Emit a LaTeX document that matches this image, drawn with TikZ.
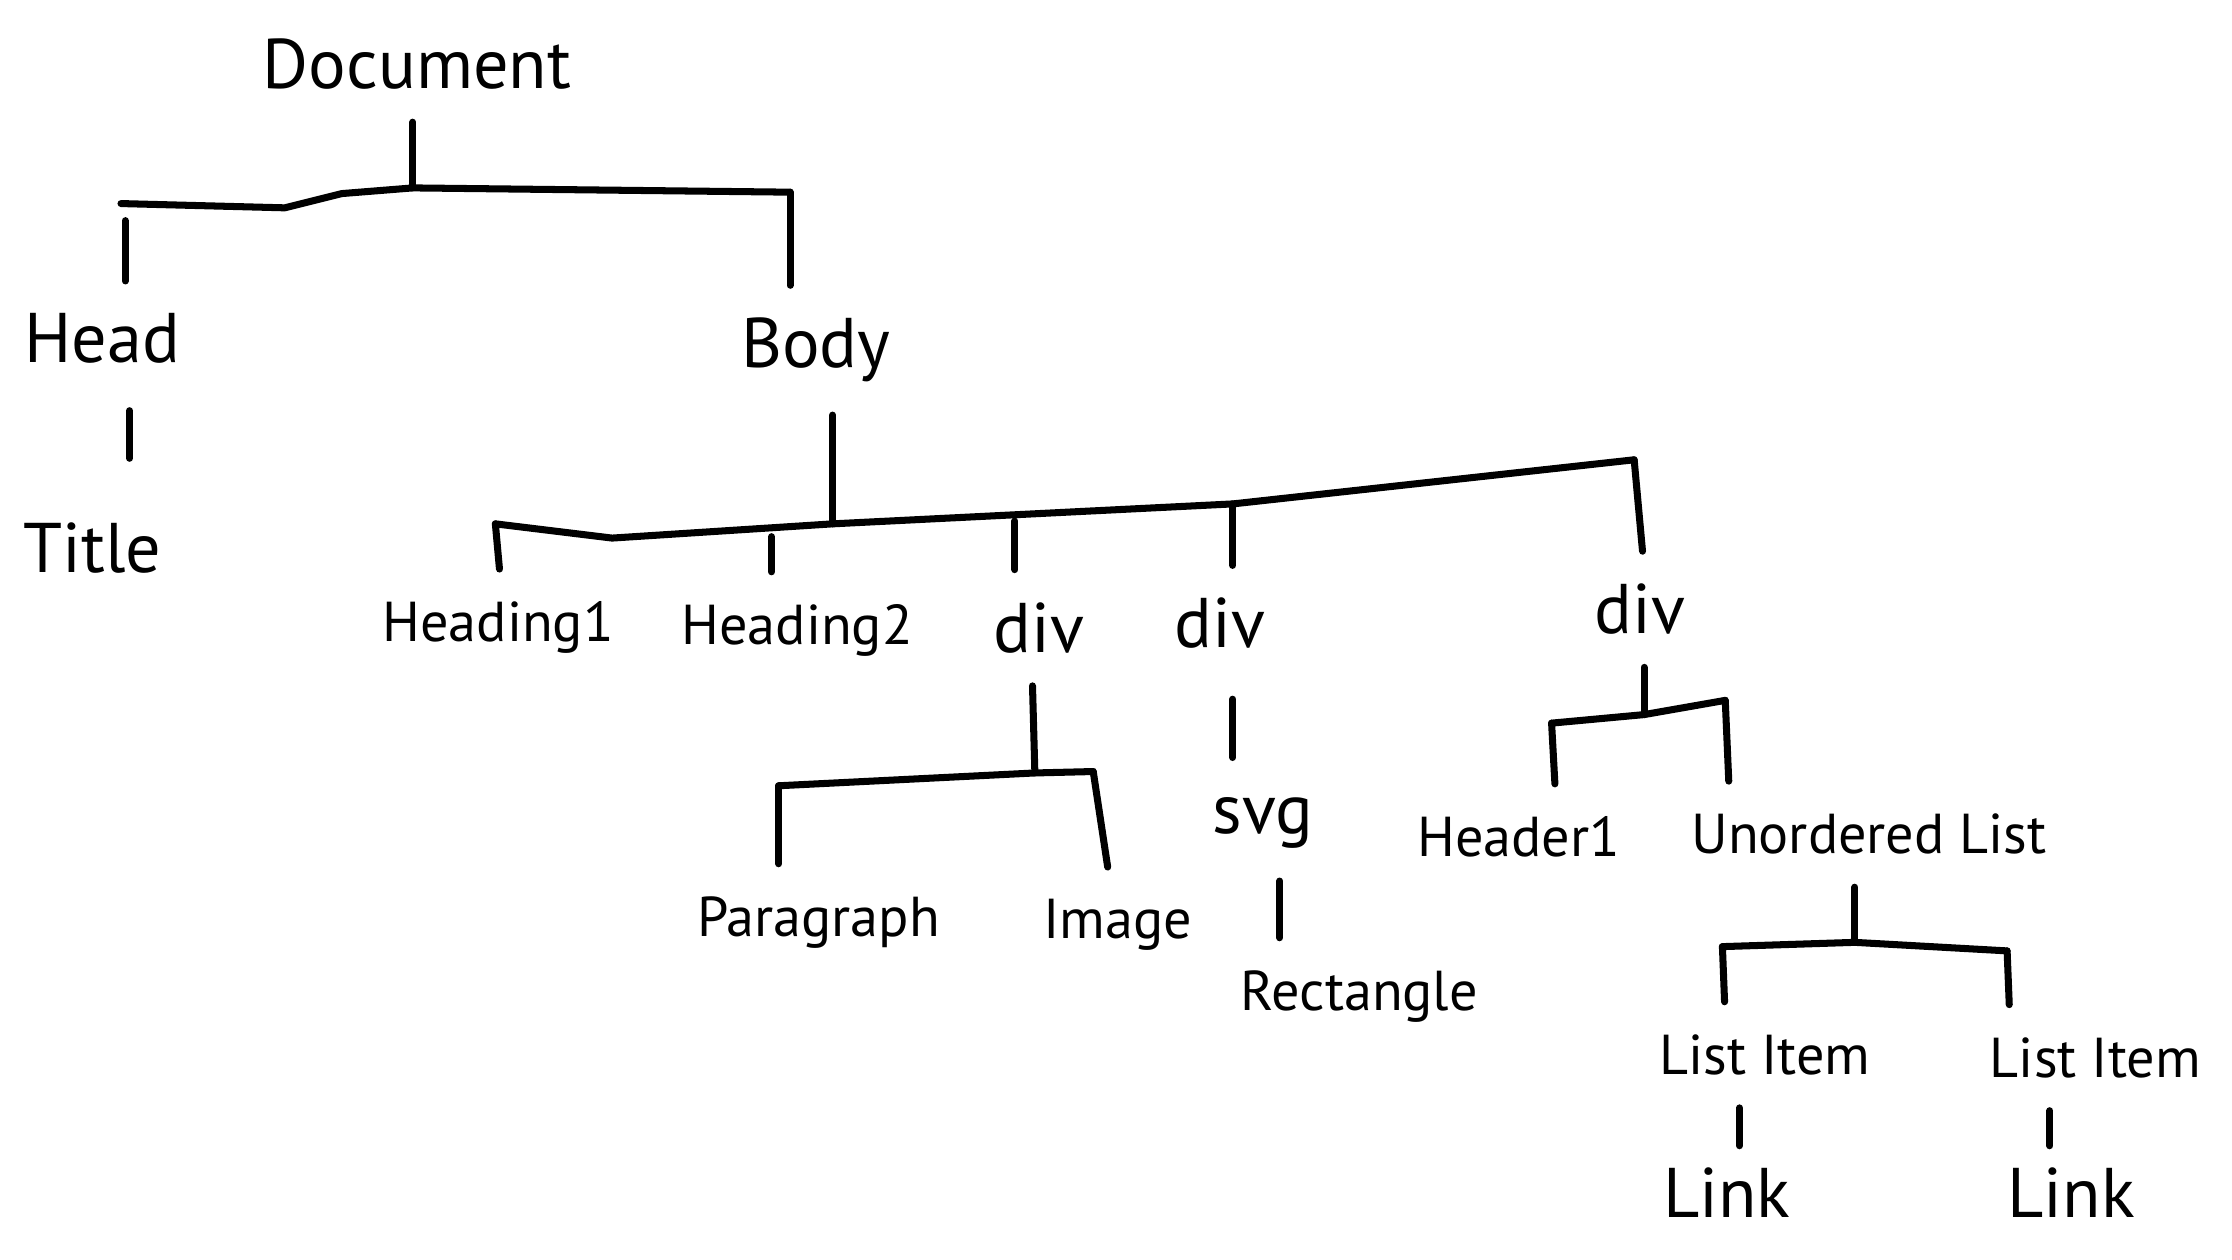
\documentclass[tikz,border=0pt]{standalone}
\usepackage{fontspec}
\setmainfont{PT Sans}
\usepackage{tikz}
\usetikzlibrary{positioning,calc}

\begin{document}
\begin{tikzpicture}[x=0.014235cm, y=-0.014235cm,
    line width=2pt, line cap=round, line join=round,
    lbl/.style={font=\fontsize{16}{18}\selectfont},
    big/.style={font=\fontsize{20}{22}\selectfont},
    stem/.style={shorten <=5pt},
    drop/.style={shorten >=5pt}]
    \useasboundingbox (0,0) rectangle (1568,885);

    % nodes
    \node[big] (doc) at (293,45) {Document};
    \node[big] (head) at (72,238) {Head};
    \node[big] (title) at (65,385) {Title};
    \node[big] (body) at (573,246) {Body};
    \node[lbl] (hone) at (350,441) {Heading1};
    \node[lbl] (htwo) at (560,443) {Heading2};
    \node[big] (diva) at (730,441) {div};
    \node[big] (divb) at (857,438) {div};
    \node[big] (divc) at (1152,428) {div};
    \node[lbl] (para) at (575,648) {Paragraph};
    \node[lbl] (img) at (785,650) {Image};
    \node[big] (svg) at (887,578) {svg};
    \node[lbl] (rect) at (955,700) {Rectangle};
    \node[lbl] (hdr) at (1067,588) {Header1};
    \node[lbl] (ul) at (1313,586) {Unordered List};
    \node[lbl] (lia) at (1240,741) {List Item};
    \node[lbl] (lib) at (1472,743) {List Item};
    \node[big] (lka) at (1213,838) {Link};
    \node[big] (lkb) at (1455,838) {Link};

    % junctions
    \coordinate (jdoc) at (290,132);
    \coordinate (jhead) at (88,155);
    \coordinate (jbody) at (555,135);
    \coordinate (jbod) at (585,368);
    \coordinate (jhone) at (348,368);
    \coordinate (jhtwo) at (542,377);
    \coordinate (jdiva) at (713,366);
    \coordinate (jdivb) at (866,354);
    \coordinate (jdivc) at (1148,323);
    \coordinate (jda) at (727,543);
    \coordinate (jpara) at (547,552);
    \coordinate (jimg) at (768,542);
    \coordinate (jdc) at (1155,502);
    \coordinate (jhdr) at (1090,508);
    \coordinate (jul) at (1212,492);
    \coordinate (jlist) at (1303,662);
    \coordinate (jlia) at (1210,665);
    \coordinate (jlib) at (1410,668);

    % document
    \draw[stem] (doc.south -| jdoc) -- (jdoc);
    \draw (85,143) -- (200,146) -- (240,136) -- (jdoc) -- (jbody);
    \draw[drop] (jbody) -- (body.north -| jbody);
    \draw[drop] (jhead) -- (head.north -| jhead);

    % head
    \draw[shorten <=9pt, shorten >=14pt] (head.south -| 91,0) -- (title.north -| 91,0);

    % body
    \draw[stem] (body.south -| jbod) -- (jbod);
    \draw (jhone) -- (430,378) -- (jbod) -- (jdivb) -- (jdivc);
    \draw[drop] (jhone) -- (hone.north -| 352,0);
    \draw[drop] (jhtwo) -- (htwo.north -| jhtwo);
    \draw[drop] (jdiva) -- (diva.north -| jdiva);
    \draw[drop] (jdivb) -- (divb.north -| jdivb);
    \draw[drop] (jdivc) -- (divc.north -| 1155,0);

    % first div
    \draw[stem] (diva.south -| 725,0) -- (jda);
    \draw (jpara) -- (jda) -- (jimg);
    \draw[drop] (jpara) -- (para.north -| jpara);
    \draw[drop] (jimg) -- (img.north -| 780,0);

    % second div
    \draw[shorten <=10pt, shorten >=7pt] (divb.south -| 866,0) -- (svg.north -| 866,0);
    \draw[stem,drop] (svg.south -| 899,0) -- (rect.north -| 899,0);

    % third div
    \draw[stem] (divc.south -| jdc) -- (jdc);
    \draw (jhdr) -- (jdc) -- (jul);
    \draw[drop] (jhdr) -- (hdr.north -| 1093,0);
    \draw[drop] (jul) -- (ul.north -| 1215,0);

    % list
    \draw[stem] (ul.south -| jlist) -- (jlist);
    \draw (jlia) -- (jlist) -- (jlib);
    \draw[drop] (jlia) -- (lia.north -| 1212,0);
    \draw[drop] (jlib) -- (lib.north -| 1412,0);
    \draw[stem, shorten >=2pt] (lia.south -| 1222,0) -- (lka.north -| 1222,0);
    \draw[stem, shorten >=2pt] (lib.south -| 1440,0) -- (lkb.north -| 1440,0);
\end{tikzpicture}
\end{document}
